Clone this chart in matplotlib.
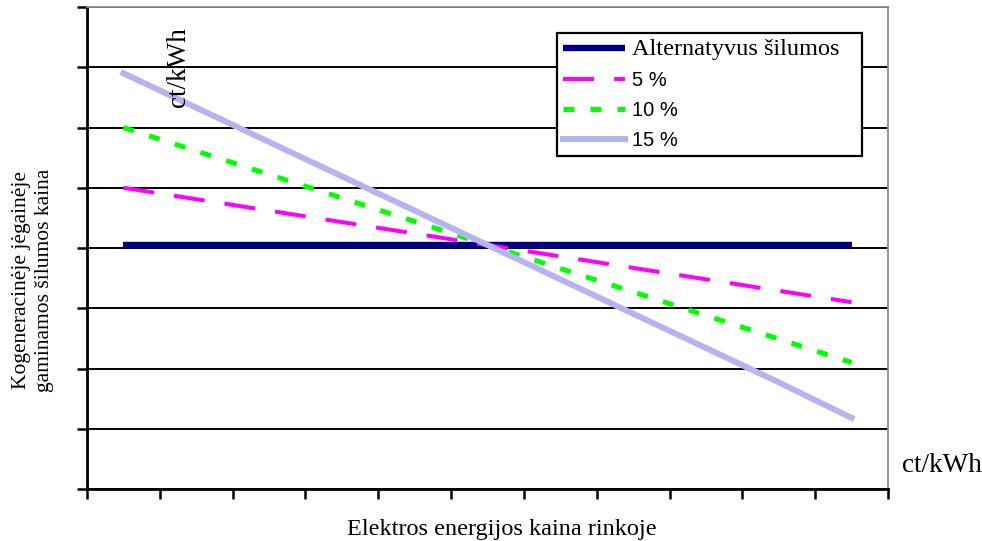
import numpy as np
import matplotlib
matplotlib.use('Agg')
from matplotlib import pyplot as plt

# kainų scenarijai (ct/kWh), 11 taškų pagal elektros kainą rinkoje
alternatyvus = [4.05, 4.05, 4.05, 4.05, 4.05, 4.05, 4.05, 4.05, 4.05, 4.05, 4.05]
proc_5 = [5.00, 4.81, 4.62, 4.43, 4.24, 4.05, 3.86, 3.67, 3.48, 3.29, 3.10]
proc_10 = [6.00, 5.61, 5.22, 4.83, 4.44, 4.05, 3.66, 3.27, 2.88, 2.49, 2.10]
proc_15 = [6.90, 6.33, 5.76, 5.19, 4.62, 4.05, 3.48, 2.91, 2.34, 1.77, 1.18]
labels = ['Alternatyvus šilumos', '5 %', '10 %', '15 %']

serif = 'Liberation Serif'
sans = 'Liberation Sans'

fig = plt.figure(figsize=(9.82, 5.41), dpi=100)
ax = fig.add_axes([87/982, 1-489/541, (888-87)/982, (489-7)/541])

x = np.arange(len(proc_5)) + 0.5
ax.plot(x, alternatyvus, color='#000080', lw=4.6, solid_capstyle='butt', label=labels[0], zorder=3)
ax.plot(x, proc_5, color='#ff00ff', lw=2.9, dashes=(7.7, 5), label=labels[1], zorder=4)
ax.plot(x, proc_10, color='#00ff00', lw=3.6, dashes=(2.2, 3.2), label=labels[2], zorder=5)
ax.plot(x, proc_15, color='#b4b4f2', lw=4.3, label=labels[3], zorder=6)

ax.set_xlim(0, 11)
ax.set_ylim(0, 8)
ax.set_xticks(np.arange(0, 12))
ax.set_yticks(np.arange(0, 9))
ax.set_xticklabels([])
ax.set_yticklabels([])
ax.tick_params(direction='out', length=7, width=1.8, color='black')
ax.yaxis.grid(True, color='black', lw=1.4)
ax.set_axisbelow(True)

for s in ['left', 'bottom']:
    ax.spines[s].set_linewidth(2)
    ax.spines[s].set_color('black')
for s in ['top', 'right']:
    ax.spines[s].set_linewidth(1.3)
    ax.spines[s].set_color('#8c8c8c')

fig.text(33/982, 1-280/541, 'Kogeneracinėje jėgainėje\ngaminamos šilumos kaina', rotation=90,
         ha='center', va='center', family=serif, fontsize=15.5, linespacing=1.25)
fig.text(502/982, 1-529/541, 'Elektros energijos kaina rinkoje', ha='center', va='center',
         family=serif, fontsize=17.5)
fig.text(179/982, 1-67/541, 'ct/kWh', rotation=90, ha='center', va='center',
         family=serif, fontsize=19.5)
fig.text(942/982, 1-465/541, 'ct/kWh', ha='center', va='center', family=serif, fontsize=19.5)

leg = ax.legend(loc='upper left', bbox_to_anchor=(557/982, 1-156/541, 305/982, 123/541),
                bbox_transform=fig.transFigure, mode='expand', fancybox=False,
                edgecolor='black', framealpha=1, prop={'family': sans, 'size': 14.5},
                handlelength=3.1, handletextpad=0.3, labelspacing=0.55, borderpad=0.3,
                borderaxespad=0)
leg.get_frame().set_linewidth(1.6)
leg.get_texts()[0].set_fontfamily(serif)
leg.get_texts()[0].set_fontsize(17.5)

fig.savefig('out.png', dpi=100)
